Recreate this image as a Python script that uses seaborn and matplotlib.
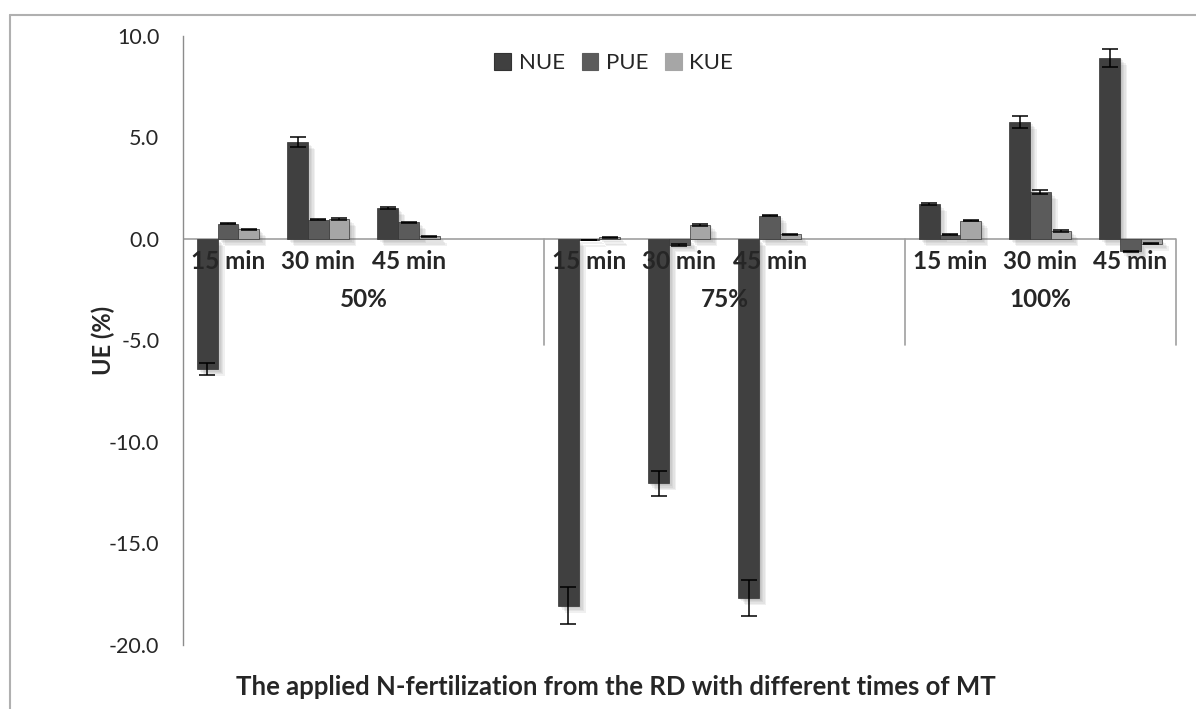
import matplotlib
matplotlib.use("Agg")
import matplotlib.pyplot as plt
import matplotlib.patheffects as pe
from matplotlib.lines import Line2D
from matplotlib.patches import Patch
import seaborn as sns
import pandas as pd

# Rates and mixing times
groups = ["50%", "75%", "100%"]
times = ["15 min", "30 min", "45 min"]
series = ["NUE", "PUE", "KUE"]

# Use efficiency (%) per rate/time combination, in order 50% (15,30,45), 75% (...), 100% (...)
nue = [-6.40, 4.76, 1.51, -18.06, -12.04, -17.70, 1.71, 5.78, 8.93]
nue_err = [0.30, 0.24, 0.05, 0.90, 0.60, 0.89, 0.06, 0.29, 0.45]
pue = [0.75, 0.95, 0.82, -0.05, -0.30, 1.15, 0.21, 2.30, -0.61]
pue_err = [0.03, 0.03, 0.03, 0.02, 0.03, 0.04, 0.02, 0.10, 0.03]
kue = [0.48, 0.98, 0.13, 0.08, 0.69, 0.23, 0.90, 0.39, -0.23]
kue_err = [0.03, 0.05, 0.02, 0.02, 0.03, 0.02, 0.04, 0.03, 0.02]

y_ticks = [-20, -15, -10, -5, 0, 5, 10]

colors = {"NUE": "#404040", "PUE": "#5b5b5b", "KUE": "#a6a6a6"}

sns.set_style("white")
plt.rcParams["font.family"] = ["Lato", "DejaVu Sans"]

# Category slots: each rate gets three times, with an empty slot between rates
order = []
slot_of = {}
for gi, g in enumerate(groups):
    for t in times:
        key = f"{g} | {t}"
        slot_of[key] = len(order)
        order.append(key)
    if gi < len(groups) - 1:
        order.append(f"gap{gi}")

values = {"NUE": nue, "PUE": pue, "KUE": kue}
errors = {"NUE": nue_err, "PUE": pue_err, "KUE": kue_err}
rows = []
keys = [f"{g} | {t}" for g in groups for t in times]
for s in series:
    for k, v, e in zip(keys, values[s], errors[s]):
        rows.append({"slot": k, "series": s, "value": v, "err": e})
df = pd.DataFrame(rows)

fig = plt.figure(figsize=(11.96, 7.09), dpi=100)
ax = fig.add_axes([0.153, 0.0903, 0.830, 0.859])

sns.barplot(data=df, x="slot", y="value", hue="series", order=order,
            hue_order=series, palette=colors, width=0.69, errorbar=None,
            saturation=1, ax=ax, legend=False, zorder=3)

# soft drop shadow built from a few faint offset copies
shadow = [pe.SimplePatchShadow(offset=(o, -o), shadow_rgbFace="#606060", alpha=0.09)
          for o in (1, 2, 3, 4, 5)] + [pe.Normal()]

# error bars placed at the drawn bar centres
slot_to_idx = {slot_of[k]: i for i, k in enumerate(keys)}
for s, cont in zip(series, ax.containers):
    for bar in cont:
        bar.set_path_effects(shadow)
        bar.set_edgecolor("#333333")
        bar.set_linewidth(0.5)
        xc = bar.get_x() + bar.get_width() / 2
        h = bar.get_height()
        if h != h:
            continue
        idx = slot_to_idx.get(int(round(xc)))
        if idx is None:
            continue
        ax.errorbar(xc, values[s][idx], yerr=errors[s][idx], fmt="none",
                    ecolor="black", elinewidth=1.1, capsize=5.5, capthick=1.1,
                    zorder=4)

ax.set_xlim(-0.5, len(order) - 0.5)
ax.set_ylim(-20, 10)
ax.set_yticks(y_ticks)
ax.set_yticklabels([f"{v:.1f}" for v in y_ticks], fontsize=15.5)
ax.tick_params(axis="y", length=7, width=1, color="#8c8c8c", pad=10, direction="out")
ax.set_xticks([])
ax.set_xlabel("")
ax.set_ylabel("UE (%)", fontsize=17, fontweight="bold")
ax.yaxis.set_label_coords(-0.0685, 0.5)

for side in ["top", "right", "bottom"]:
    ax.spines[side].set_visible(False)
ax.spines["left"].set_color("#8c8c8c")
ax.spines["left"].set_linewidth(1)

# zero axis line and group dividers
ax.axhline(0, color="#a0a0a0", lw=1.2, zorder=2)
px_per_unit = (0.859 * 709) / 30.0
div_depth = 106 / px_per_unit
for xd in [3.5, 7.5, len(order) - 0.5]:
    ax.plot([xd, xd], [0, -div_depth], color="#a0a0a0", lw=1.2, zorder=2,
            clip_on=False)

# two-level category labels
for k in keys:
    ax.text(slot_of[k], -23 / px_per_unit, k.split(" | ")[1], ha="center",
            va="center", fontsize=17.5, fontweight="bold", zorder=6)
group_centres = [1.5, 5.5, 9.0]
for g, xc in zip(groups, group_centres):
    ax.text(xc, -61 / px_per_unit, g, ha="center", va="center",
            fontsize=17.5, fontweight="bold", zorder=6)

handles = [Patch(facecolor=colors[s], edgecolor="#333333" if s == "NUE" else colors[s],
                 linewidth=0.8) for s in series]
ax.legend(handles, series, loc="center", bbox_to_anchor=(0.434, 0.955), ncol=3,
          frameon=False, fontsize=16, handlelength=0.75, handleheight=0.75,
          handletextpad=0.35, columnspacing=0.75)

fig.text(616 / 1196, 1 - 687 / 709,
         "The applied N-fertilization from the RD with different times of MT",
         ha="center", va="center", fontsize=18.5, fontweight="bold")

# chart frame
fig.add_artist(Line2D([10 / 1196, 10 / 1196], [0, 1 - 15 / 709],
                      transform=fig.transFigure, color="#b0b0b0", lw=1.5))
fig.add_artist(Line2D([10 / 1196, 1], [1 - 15 / 709, 1 - 15 / 709],
                      transform=fig.transFigure, color="#b0b0b0", lw=1.5))

fig.savefig("out.png", dpi=100, facecolor="white")
